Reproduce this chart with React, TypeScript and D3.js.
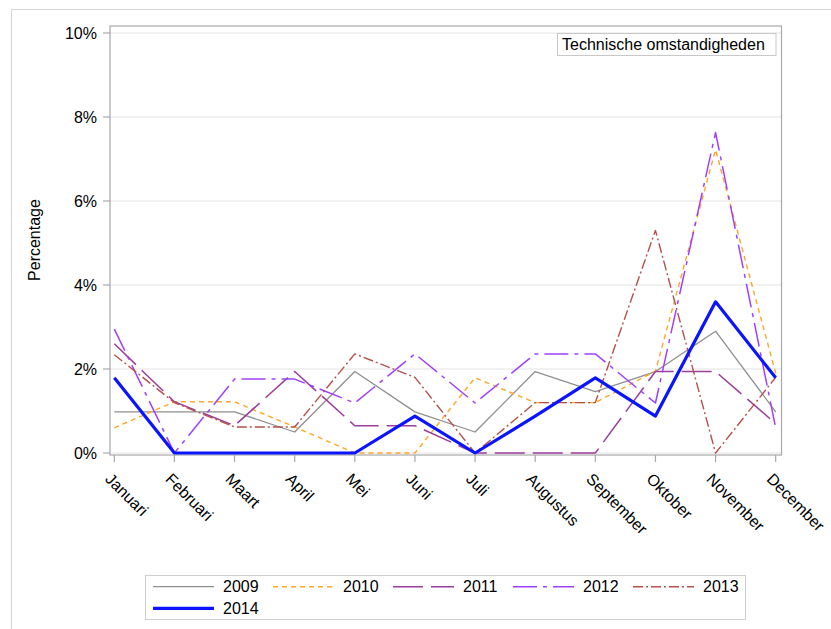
import React from "react";
import * as d3 from "d3";

const months = ["Januari","Februari","Maart","April","Mei","Juni","Juli","Augustus","September","Oktober","November","December"];
const yTicks = [0, 2, 4, 6, 8, 10];

const v2009 = [0.98, 0.98, 0.98, 0.5, 1.94, 0.98, 0.5, 1.94, 1.46, 1.94, 2.9, 0.98];
const v2010 = [0.6, 1.22, 1.22, 0.62, 0, 0, 1.79, 1.2, 1.2, 1.95, 7.22, 1.9];
const v2011 = [2.6, 1.22, 0.65, 1.94, 0.65, 0.65, 0, 0, 0, 1.94, 1.94, 0.7];
const v2012 = [2.95, 0, 1.76, 1.76, 1.19, 2.36, 1.19, 2.36, 2.36, 1.19, 7.63, 0.6];
const v2013 = [2.34, 1.2, 0.62, 0.62, 2.36, 1.8, 0, 1.2, 1.2, 5.3, 0, 1.8];
const v2014 = [1.79, 0, 0, 0, 0, 0.88, 0, 0.88, 1.79, 0.88, 3.6, 1.79];

const seriesNames = ["2009", "2010", "2011", "2012", "2013", "2014"];
const seriesValues = [v2009, v2010, v2011, v2012, v2013, v2014];
const seriesStyles = [
  { color: "#8f8f8f", width: 1.3, dash: "" },
  { color: "#FFA726", width: 1.4, dash: "5,4" },
  { color: "#9B3D9B", width: 1.5, dash: "30,8" },
  { color: "#A040FF", width: 1.5, dash: "24,6,4,6" },
  { color: "#B5504A", width: 1.4, dash: "10,3,2,3" },
  { color: "#0A14FF", width: 3.2, dash: "" },
];

const FONT = "'Liberation Sans', Arial, sans-serif";

export default function App() {
  const W = 831, H = 629;
  const frame = { l: 110, r: 781.5, t: 26, b: 455 };
  const x = d3.scalePoint<string>().domain(months).range([114.3, 775.7]);
  const y = d3.scaleLinear().domain([0, 10]).range([453, 33]);
  const line = d3.line<number>().x((_, i) => x(months[i]) as number).y((d) => y(d));

  const legendX0 = 153, legendStep = 120, lineLen = 61;
  const legendRows = [586.7, 608.3];

  return (
    <svg width={W} height={H} style={{ position: "absolute", left: 0, top: 0, fontFamily: FONT }}>
      <rect x={0} y={0} width={W} height={H} fill="#fff" />
      <rect x={11.5} y={9.5} width={W + 10} height={H + 10} fill="none" stroke="#d4d4d4" />
      {/* gridlines */}
      {yTicks.map((t) => (
        <line key={"g" + t} x1={frame.l} x2={frame.r} y1={y(t)} y2={y(t)} stroke="#e4e4e4" strokeWidth={1.2} />
      ))}
      {/* frame */}
      <rect x={frame.l} y={frame.t} width={frame.r - frame.l} height={frame.b - frame.t} fill="none" stroke="#a8a8a8" strokeWidth={1.2} />
      {/* y ticks */}
      {yTicks.map((t) => (
        <g key={"y" + t}>
          <line x1={103} x2={frame.l} y1={y(t)} y2={y(t)} stroke="#a8a8a8" strokeWidth={1.2} />
          <text x={97} y={y(t)} dy="0.36em" textAnchor="end" fontSize={16} fill="#000">{t + "%"}</text>
        </g>
      ))}
      <text transform={`translate(40,240) rotate(-90)`} textAnchor="middle" fontSize={16} fill="#000">Percentage</text>
      {/* x ticks */}
      {months.map((m) => {
        const xx = x(m) as number;
        return (
          <g key={m}>
            <line x1={xx} x2={xx} y1={frame.b} y2={frame.b + 7} stroke="#a8a8a8" strokeWidth={1.2} />
            <text transform={`translate(${xx - 10},${frame.b + 25}) rotate(45)`} fontSize={16} fill="#000">{m}</text>
          </g>
        );
      })}
      {/* series */}
      {seriesValues.map((vals, i) => (
        <path key={seriesNames[i]} d={line(vals) || ""} fill="none" stroke={seriesStyles[i].color}
          strokeWidth={seriesStyles[i].width} strokeDasharray={seriesStyles[i].dash} strokeLinejoin="round" />
      ))}
      {/* inset label */}
      <rect x={557.5} y={33.5} width={218.5} height={22} fill="#fff" stroke="#c8c8c8" />
      <text x={562} y={50} fontSize={16} fill="#000">Technische omstandigheden</text>
      {/* legend */}
      <rect x={145.5} y={575.5} width={600} height={44} fill="#fff" stroke="#cfcfcf" />
      {seriesNames.map((name, i) => {
        const row = i < 5 ? 0 : 1;
        const col = i < 5 ? i : 0;
        const lx = legendX0 + col * legendStep;
        const ly = legendRows[row];
        const st = seriesStyles[i];
        return (
          <g key={"l" + name}>
            <line x1={lx} x2={lx + lineLen} y1={ly} y2={ly} stroke={st.color} strokeWidth={st.width} strokeDasharray={st.dash} />
            <text x={lx + lineLen + 9} y={ly} dy="0.36em" fontSize={16} fill="#000">{name}</text>
          </g>
        );
      })}
    </svg>
  );
}
